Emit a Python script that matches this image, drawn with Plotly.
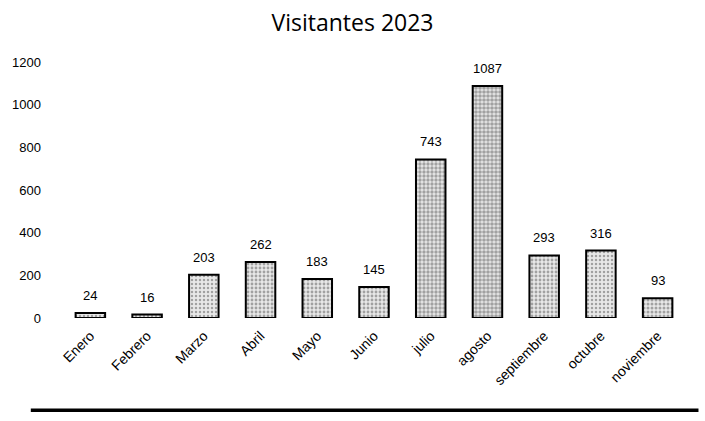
import plotly.graph_objects as go

# Monthly visitor counts for 2023
meses = ["Enero", "Febrero", "Marzo", "Abril", "Mayo", "Junio",
         "julio", "agosto", "septiembre", "octubre", "noviembre"]
visitantes = [24, 16, 203, 262, 183, 145, 743, 1087, 293, 316, 93]
y_ticks = [0, 200, 400, 600, 800, 1000, 1200]

# stipple density per bar (denser on the busy summer months)
densidad = [0.3, 0.3, 0.3, 0.4, 0.4, 0.4, 0.55, 0.65, 0.4, 0.3, 0.45]

fig = go.Figure()
fig.add_trace(go.Bar(
    x=meses,
    y=visitantes,
    marker=dict(
        color="#b0b0b0",
        line=dict(color="black", width=2),
        pattern=dict(shape=".", fgcolor="#5a5a5a", bgcolor="#e8e8e8",
                     size=4, solidity=densidad),
    ),
    width=0.52,
    showlegend=False,
    hoverinfo="x+y",
))

# value labels above each bar
for m, v in zip(meses, visitantes):
    fig.add_annotation(x=m, y=v, text=str(v), showarrow=False,
                       yanchor="bottom", yshift=8,
                       font=dict(family="Liberation Sans", size=13, color="black"))

# frame rule under the chart
fig.add_shape(type="line", xref="paper", yref="paper",
              x0=-0.05, x1=1.02, y0=-0.36, y1=-0.36,
              line=dict(color="black", width=3.5))

fig.update_layout(
    width=705, height=421,
    margin=dict(l=62, r=19, t=62, b=103),
    paper_bgcolor="white", plot_bgcolor="white",
    title=dict(text="Visitantes 2023", x=0.5, xanchor="center",
               y=0.945, yanchor="middle",
               font=dict(family="Open Sans", size=23, color="black")),
    font=dict(family="Liberation Sans", color="black"),
    bargap=0.48,
)
fig.update_xaxes(showline=False, showgrid=False, zeroline=False,
                 tickangle=-45, tickfont=dict(size=14), ticks="",
                 ticklabelstandoff=6)
fig.update_yaxes(range=[0, 1200], tickvals=y_ticks, showgrid=False,
                 zeroline=False, showline=False, ticklabelstandoff=20,
                 tickfont=dict(size=13))

fig.write_html("out.html")
